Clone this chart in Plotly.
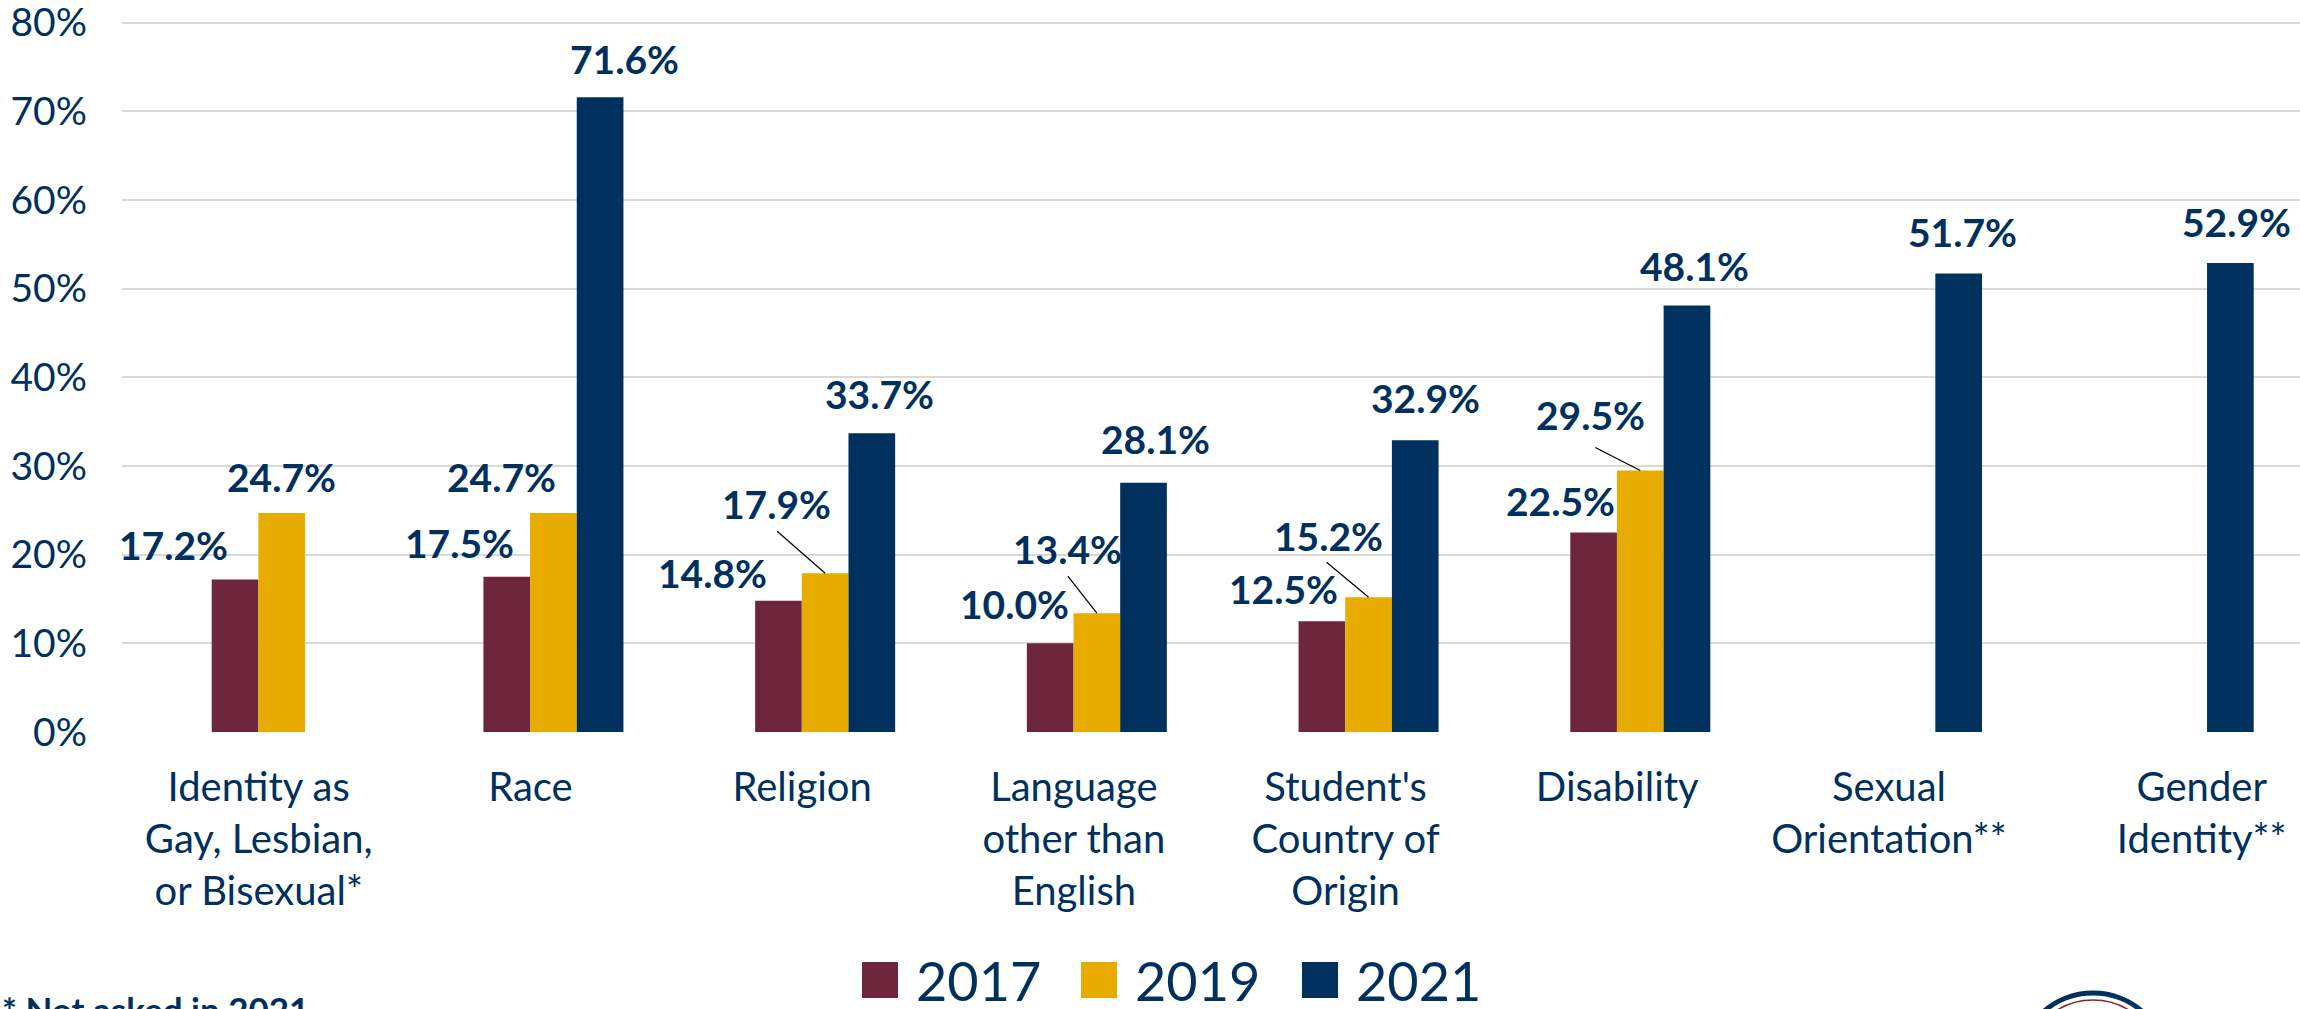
import plotly.graph_objects as go

# ---------------- data ----------------
categories = [
    "Identity as<br>Gay, Lesbian,<br>or Bisexual*",
    "Race",
    "Religion",
    "Language<br>other than<br>English",
    "Student's<br>Country of<br>Origin",
    "Disability",
    "Sexual<br>Orientation**",
    "Gender<br>Identity**",
]
years = ["2017", "2019", "2021"]
v2017 = [17.2, 17.5, 14.8, 10.0, 12.5, 22.5, None, None]
v2019 = [24.7, 24.7, 17.9, 13.4, 15.2, 29.5, None, None]
v2021 = [None, 71.6, 33.7, 28.1, 32.9, 48.1, 51.7, 52.9]
series = [v2017, v2019, v2021]
y_ticks = [0, 10, 20, 30, 40, 50, 60, 70, 80]
footnote = "* Not asked in 2021"

# ---------------- style ----------------
colors = ["#6E263D", "#E8AB00", "#00305E"]
NAVY = "#00305E"
W, H = 2300, 1009
ML, MR, MT, MB = 122, 0, 20, 277
PW, PH = W - ML - MR, H - MT - MB
BAR_W = 46.7          # px, width of one bar
SLOT = 271.7          # px per category
X_RANGE = [-0.5878, 7.428]
Y_RANGE = [0, 80.3]

# horizontal shift (px) of each category label relative to its bar group
label_shift_px = [-23, -23, -23, -23, -23, -23, -23, 18]

# value-label offsets (px) relative to each bar's top centre: (dx, dy up)
label_dx = [
    [-62, -47, -66, -36, -38, -33, 0, 0],
    [0, -52, -49, -29, -40, -50, 0, 0],
    [0, 24, 8, 12, 10, 8, 4, 6],
]
label_dy = [
    [34, 34, 28, 39, 32, 32, 0, 0],
    [36, 36, 69, 64, 61, 55, 0, 0],
    [37, 38, 39, 44, 42, 40, 42, 41],
]
# leader lines for 2019 labels (start offset from bar top centre, px)
leader = {2: (-48, 42), 3: (-29, 37), 4: (-42, 35), 5: (-45, 23)}

FONT = "Lato, 'Open Sans', sans-serif"
positions = list(range(len(categories)))

fig = go.Figure()
for k, (yr, vals) in enumerate(zip(years, series)):
    fig.add_trace(go.Bar(
        x=positions, y=vals, name=yr,
        marker=dict(color=colors[k], line=dict(width=0)),
        showlegend=False, hoverinfo="skip",
    ))

annotations = []
shapes = []
for k, vals in enumerate(series):
    for i, v in enumerate(vals):
        if v is None:
            continue
        annotations.append(dict(
            x=i, y=v, xref="x", yref="y",
            text=f"{v:.1f}%", showarrow=False,
            xanchor="center", yanchor="middle",
            xshift=(k - 1) * BAR_W + label_dx[k][i],
            yshift=label_dy[k][i],
            font=dict(family=FONT, size=39, color=NAVY, weight="bold"),
        ))
for i, (sx, sy) in leader.items():
    shapes.append(dict(
        type="line", xref="x", yref="y",
        xsizemode="pixel", ysizemode="pixel",
        xanchor=i, yanchor=v2019[i],
        x0=sx, y0=sy, x1=0, y1=0,
        line=dict(color="black", width=1.2),
    ))


def px_x(p):
    return (p - ML) / PW


def px_y(p):
    return (H - MB - p) / PH


# manual legend
leg_sq_x = [862, 1081, 1302]
for k, yr in enumerate(years):
    x0 = leg_sq_x[k]
    shapes.append(dict(
        type="rect", xref="paper", yref="paper",
        x0=px_x(x0), x1=px_x(x0 + 36), y0=px_y(998), y1=px_y(962),
        fillcolor=colors[k], line=dict(width=0),
    ))
    annotations.append(dict(
        x=px_x(x0 + 52), y=px_y(980), xref="paper", yref="paper",
        text=yr, showarrow=False, xanchor="left", yanchor="middle",
        font=dict(family=FONT, size=54, color=NAVY),
    ))

# footnote (cropped at bottom)
annotations.append(dict(
    x=px_x(0), y=px_y(986), xref="paper", yref="paper",
    text=footnote, showarrow=False, xanchor="left", yanchor="top",
    font=dict(family=FONT, size=35, color=NAVY, weight="bold"),
))

# logo ring (cropped at bottom)
shapes.append(dict(type="circle", xref="paper", yref="paper",
                   x0=px_x(2018), x1=px_x(2168), y0=px_y(1143), y1=px_y(993),
                   line=dict(color=NAVY, width=5), fillcolor="white"))
shapes.append(dict(type="circle", xref="paper", yref="paper",
                   x0=px_x(2025), x1=px_x(2161), y0=px_y(1136), y1=px_y(1000),
                   line=dict(color="#8B2332", width=1.5)))

fig.update_layout(
    width=W, height=H,
    margin=dict(l=ML, r=MR, t=MT, b=MB, pad=0, autoexpand=False),
    paper_bgcolor="white", plot_bgcolor="white",
    barmode="group", bargap=0.4847, bargroupgap=0,
    font=dict(family=FONT, color=NAVY),
    annotations=annotations, shapes=shapes,
    xaxis=dict(
        type="linear", range=X_RANGE, tickmode="array",
        tickvals=[p + s / SLOT for p, s in zip(positions, label_shift_px)],
        ticktext=categories,
        showgrid=False, zeroline=False, showline=False, ticks="",
        tickfont=dict(family=FONT, size=40, color=NAVY),
        ticklabelstandoff=28, automargin=False,
    ),
    yaxis=dict(
        range=Y_RANGE, tickmode="array", tickvals=y_ticks,
        ticktext=[f"{t}%" for t in y_ticks],
        showgrid=True, gridcolor="#D9D9D9", gridwidth=2,
        zeroline=False, showline=False, ticks="",
        tickfont=dict(family=FONT, size=39, color=NAVY),
        ticklabelstandoff=34, automargin=False,
        ticklabeloverflow="allow",
    ),
)

fig.write_html(
    "out.html",
    config={"displayModeBar": False},
    post_script="document.body.style.margin='0px';document.body.style.overflow='hidden';",
)
